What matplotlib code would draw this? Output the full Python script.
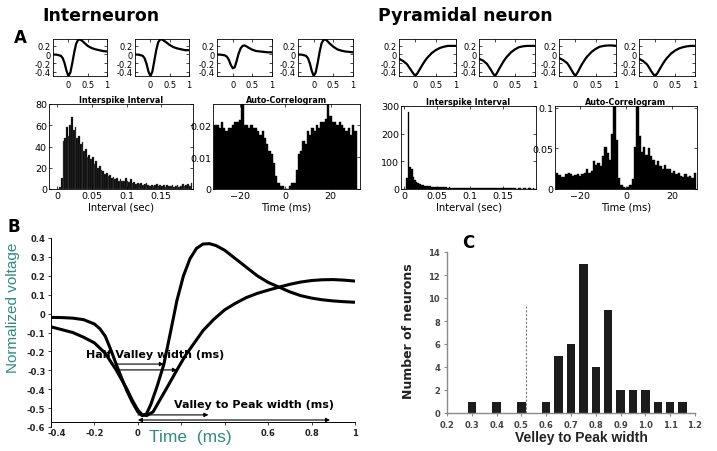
import matplotlib.pyplot as plt
from matplotlib.transforms import ScaledTranslation

W, H = 717, 452

# ---- small waveforms (panel A, top row) ----
small_t = [-0.4, -0.3, -0.2, -0.15, -0.1, -0.05, 0.0, 0.05, 0.1, 0.15, 0.2,
           0.25, 0.3, 0.35, 0.4, 0.5, 0.6, 0.7, 0.8, 0.9, 1.0]
inter_waves = [
    [0.0, -0.005, -0.03, -0.08, -0.2, -0.38, -0.5, -0.42, -0.2, 0.05, 0.25,
     0.34, 0.35, 0.32, 0.28, 0.2, 0.15, 0.12, 0.1, 0.08, 0.07],
    [0.0, -0.005, -0.03, -0.09, -0.22, -0.4, -0.5, -0.4, -0.15, 0.1, 0.28,
     0.35, 0.35, 0.32, 0.29, 0.22, 0.17, 0.14, 0.12, 0.1, 0.1],
    [0.0, -0.005, -0.02, -0.05, -0.12, -0.24, -0.32, -0.3, -0.15, 0.02, 0.14,
     0.2, 0.21, 0.19, 0.16, 0.11, 0.08, 0.07, 0.06, 0.05, 0.05],
    [0.0, -0.005, -0.03, -0.08, -0.2, -0.38, -0.5, -0.42, -0.2, 0.06, 0.26,
     0.34, 0.35, 0.31, 0.26, 0.18, 0.12, 0.09, 0.07, 0.06, 0.05],
]
pyr_waves = [
    [-0.1, -0.15, -0.23, -0.3, -0.37, -0.44, -0.5, -0.44, -0.36, -0.28, -0.2,
     -0.13, -0.07, -0.02, 0.03, 0.1, 0.15, 0.18, 0.2, 0.2, 0.2],
    [-0.1, -0.14, -0.22, -0.29, -0.36, -0.44, -0.5, -0.43, -0.34, -0.26, -0.18,
     -0.11, -0.05, 0.0, 0.05, 0.12, 0.17, 0.19, 0.2, 0.2, 0.2],
    [-0.08, -0.13, -0.2, -0.27, -0.35, -0.43, -0.5, -0.43, -0.34, -0.25, -0.17,
     -0.1, -0.04, 0.01, 0.06, 0.13, 0.18, 0.2, 0.21, 0.21, 0.2],
    [-0.1, -0.15, -0.23, -0.3, -0.38, -0.45, -0.5, -0.45, -0.37, -0.29, -0.21,
     -0.14, -0.08, -0.03, 0.02, 0.09, 0.14, 0.17, 0.19, 0.2, 0.2],
]

# ---- ISI histograms (bin width 2.5 ms) ----
isi_bin = 0.0025
inter_isi = [0, 2, 10, 45, 48, 58, 50, 60, 68, 56, 58, 48, 50, 42, 44, 36, 38,
             30, 32, 28, 30, 24, 26, 20, 22, 18, 17, 14, 15, 12, 13, 10, 11, 9,
             10, 8, 9, 8, 8, 10, 8, 7, 9, 6, 7, 5, 6, 5, 6, 4, 5, 6, 4, 3, 4, 3,
             4, 5, 3, 4, 3, 4, 2, 4, 3, 3, 4, 2, 3, 4, 2, 3, 5, 3, 4, 5, 3, 6]
pyr_isi = [0, 40, 280, 78, 72, 45, 32, 25, 20, 18, 15, 14, 12, 11, 10, 10, 9,
           9, 8, 8, 7, 7, 6, 7, 6, 6, 5, 6, 5, 5, 5, 4, 5, 4, 4, 5, 4, 4, 3, 4,
           4, 3, 3, 4, 3, 3, 3, 2, 3, 3, 2, 3, 2, 2, 3, 2, 2, 2, 3, 2, 2, 2, 2,
           2, 2, 2, 2, 2, 1, 2, 2, 1, 2, 2, 1, 2, 2, 1, 2, 1]

# ---- auto-correlograms (1 ms bins) ----
inter_ac_lags = list(range(-31, 32))
inter_ac = [0.02, 0.02, 0.019, 0.021, 0.019, 0.018, 0.019, 0.019, 0.02, 0.021,
            0.021, 0.0215, 0.03, 0.02, 0.02, 0.019, 0.02, 0.019, 0.019, 0.018,
            0.017, 0.018, 0.016, 0.014, 0.012, 0.011, 0.008, 0.004, 0.002,
            0.001, 0.001, 0.0, 0.0, 0.001, 0.002, 0.002, 0.006, 0.011, 0.012,
            0.015, 0.014, 0.018, 0.017, 0.019, 0.018, 0.02, 0.019, 0.021,
            0.021, 0.022, 0.03, 0.023, 0.021, 0.021, 0.02, 0.021, 0.02, 0.019,
            0.018, 0.019, 0.017, 0.02, 0.018]
pyr_ac_lags = list(range(-30, 31))
pyr_ac = [0.02, 0.017, 0.015, 0.015, 0.019, 0.02, 0.018, 0.016, 0.017, 0.019,
          0.016, 0.018, 0.02, 0.025, 0.02, 0.022, 0.034, 0.03, 0.032, 0.028,
          0.04, 0.052, 0.044, 0.036, 0.068, 0.11, 0.06, 0.014, 0.005, 0.002,
          0.001, 0.002, 0.005, 0.012, 0.052, 0.11, 0.065, 0.045, 0.052, 0.042,
          0.05, 0.04, 0.036, 0.03, 0.034, 0.028, 0.025, 0.03, 0.024, 0.025,
          0.02, 0.022, 0.018, 0.02, 0.016, 0.015, 0.018, 0.015, 0.016, 0.014,
          0.02]

# ---- panel B mean waveforms ----
narrow_t = [-0.4, -0.35, -0.3, -0.25, -0.2, -0.175, -0.15, -0.125, -0.1,
            -0.075, -0.05, -0.025, 0.0, 0.02, 0.04, 0.06, 0.09, 0.12, 0.15,
            0.18, 0.21, 0.24, 0.27, 0.3, 0.33, 0.36, 0.4, 0.45, 0.5, 0.55,
            0.6, 0.65, 0.7, 0.75, 0.8, 0.85, 0.9, 0.95, 1.0]
narrow_v = [-0.02, -0.021, -0.024, -0.032, -0.055, -0.08, -0.12, -0.19,
            -0.267, -0.34, -0.41, -0.47, -0.52, -0.54, -0.53, -0.48, -0.38,
            -0.267, -0.1, 0.07, 0.2, 0.29, 0.345, 0.368, 0.37, 0.36, 0.335,
            0.29, 0.245, 0.2, 0.165, 0.14, 0.115, 0.095, 0.082, 0.073, 0.067,
            0.063, 0.06]
broad_t = [-0.4, -0.35, -0.3, -0.25, -0.2, -0.15, -0.1, -0.05, -0.025, 0.0,
           0.02, 0.04, 0.07, 0.1, 0.14, 0.18, 0.22, 0.26, 0.3, 0.35, 0.4, 0.45,
           0.5, 0.55, 0.6, 0.65, 0.7, 0.75, 0.8, 0.85, 0.9, 0.95, 1.0]
broad_v = [-0.07, -0.085, -0.1, -0.125, -0.155, -0.21, -0.298, -0.4, -0.46,
           -0.51, -0.535, -0.54, -0.52, -0.46, -0.38, -0.298, -0.22, -0.155,
           -0.09, -0.03, 0.02, 0.055, 0.085, 0.107, 0.124, 0.14, 0.155, 0.167,
           0.175, 0.179, 0.18, 0.177, 0.172]
half_start = -0.1
narrow_half = (0.12, -0.267)
broad_half = (0.18, -0.298)
valley_t = 0.0
narrow_peak_end = (0.325, -0.536)
broad_peak_end = (0.885, -0.563)

# ---- panel C histogram ----
vp_width = [0.3, 0.4, 0.5, 0.6, 0.65, 0.7, 0.75, 0.8, 0.85, 0.9, 0.95, 1.0,
            1.05, 1.1, 1.15]
vp_count = [1, 1, 1, 1, 5, 6, 13, 4, 9, 2, 2, 2, 1, 1, 1]
cutoff = 0.52
cutoff_top = 9.3


def box(x0, y0, x1, y1):
    return [x0 / W, 1 - y1 / H, (x1 - x0) / W, (y1 - y0) / H]


def matlab_style(ax, fs):
    for s in ax.spines.values():
        s.set_linewidth(0.6)
    ax.tick_params(direction="in", length=2, width=0.5, labelsize=fs,
                   top=True, right=True, pad=1.5)


fig = plt.figure(figsize=(W / 100, H / 100), dpi=100)

fig.text(42 / W, 1 - 16 / H, "Interneuron", fontsize=12.5, fontweight="bold",
         va="center")
fig.text(378 / W, 1 - 16 / H, "Pyramidal neuron", fontsize=12.5,
         fontweight="bold", va="center")
fig.text(20 / W, 1 - 38 / H, "A", fontsize=12, fontweight="bold",
         ha="center", va="center")
fig.text(14 / W, 1 - 227 / H, "B", fontsize=12, fontweight="bold",
         ha="center", va="center")
fig.text(468 / W, 1 - 243 / H, "C", fontsize=12, fontweight="bold",
         ha="center", va="center")

# small waveform axes
inter_x = [(53, 107), (135, 189), (217, 272), (298, 353)]
pyr_x = [(399, 456), (479, 535), (559, 616), (639, 695)]
for xs, waves in [(inter_x, inter_waves), (pyr_x, pyr_waves)]:
    for (x0, x1), wave in zip(xs, waves):
        ax = fig.add_axes(box(x0, 40, x1, 77))
        ax.plot(small_t, wave, color="black", lw=1.6)
        ax.set_xlim(-0.4, 1)
        ax.set_ylim(-0.5, 0.36)
        ax.set_xticks([0, 0.5, 1])
        ax.set_xticklabels(["0", "0.5", "1"])
        ax.set_yticks([-0.4, -0.2, 0, 0.2])
        ax.set_yticklabels(["-0.4", "-0.2", "0", "0.2"])
        matlab_style(ax, 6)
        ax.tick_params(axis="x", pad=3)

# ISI histograms
isi_specs = [((49, 105, 193, 190), inter_isi, (-0.012, 0.196), 80,
              [0, 20, 40, 60, 80], "#5a5a5a"),
             ((401, 107, 536, 190), pyr_isi, (-0.005, 0.2), 300,
              [0, 100, 200, 300], "black")]
for rect, vals, xl, ymax, yt, ec in isi_specs:
    ax = fig.add_axes(box(*rect))
    lefts = [i * isi_bin for i in range(len(vals))]
    ax.bar(lefts, vals, width=isi_bin, align="edge", color="black",
           edgecolor=ec, linewidth=0.25)
    ax.set_xlim(*xl)
    ax.set_ylim(0, ymax)
    ax.set_xticks([0, 0.05, 0.1, 0.15])
    ax.set_xticklabels(["0", "0.05", "0.1", "0.15"])
    ax.set_yticks(yt)
    matlab_style(ax, 6.8)
    ax.set_title("Interspike Interval", fontsize=5.8, fontweight="bold",
                 pad=1.5)
    ax.set_xlabel("Interval (sec)", fontsize=7.2, labelpad=1)

# auto-correlograms
ac_specs = [((213, 105, 360, 190), inter_ac_lags, inter_ac, (-32, 33),
             0.0266, [0, 0.01, 0.02], ["0", "0.01", "0.02"]),
            ((555, 107, 697, 190), pyr_ac_lags, pyr_ac, (-31, 31),
             0.102, [0, 0.05, 0.1], ["0", "0.05", "0.1"])]
for rect, lags, vals, xl, ymax, yt, ytl in ac_specs:
    ax = fig.add_axes(box(*rect))
    ax.bar(lags, vals, width=1.0, color="black", edgecolor="black",
           linewidth=0.3)
    ax.set_xlim(*xl)
    ax.set_ylim(0, ymax)
    ax.set_xticks([-20, 0, 20])
    ax.set_yticks(yt)
    ax.set_yticklabels(ytl)
    matlab_style(ax, 6.8)
    ax.set_title("Auto-Correlogram", fontsize=5.8, fontweight="bold", pad=1.5)
    ax.set_xlabel("Time (ms)", fontsize=7.2, labelpad=1)

# panel B
teal = "#2e8b80"
axb = fig.add_axes(box(51, 239, 355, 428))
axb.text(-0.24, -0.214, "Half Valley width (ms)", fontsize=8,
         fontweight="bold", va="center", zorder=2)
axb.text(0.165, -0.478, "Valley to Peak width (ms)", fontsize=8,
         fontweight="bold", va="center", zorder=2)
axb.plot(narrow_t, narrow_v, color="black", lw=2.2, zorder=3,
         solid_joinstyle="round")
axb.plot(broad_t, broad_v, color="black", lw=2.2, zorder=3,
         solid_joinstyle="round")
arrow = dict(arrowstyle="-|>", lw=0.8, color="black", mutation_scale=6,
             shrinkA=0, shrinkB=0)
arrow2 = dict(arrowstyle="<|-|>", lw=0.8, color="black", mutation_scale=6,
              shrinkA=0, shrinkB=0)
axb.annotate("", xy=narrow_half, xytext=(half_start, narrow_half[1]),
             arrowprops=arrow, zorder=4)
axb.annotate("", xy=broad_half, xytext=(half_start, broad_half[1]),
             arrowprops=arrow, zorder=4)
axb.annotate("", xy=narrow_peak_end, xytext=(valley_t, narrow_peak_end[1]),
             arrowprops=arrow, zorder=4)
axb.annotate("", xy=broad_peak_end, xytext=(valley_t, broad_peak_end[1]),
             arrowprops=arrow2, zorder=4)
axb.set_xlim(-0.4, 1)
axb.set_ylim(-0.6, 0.4)
axb.spines["top"].set_visible(False)
axb.spines["right"].set_visible(False)
axb.spines["bottom"].set_position(("data", -0.575))
for s in ("left", "bottom"):
    axb.spines[s].set_linewidth(0.7)
axb.set_xticks([-0.4, -0.2, 0, 0.2, 0.4, 0.6, 0.8, 1.0])
axb.set_xticklabels(["-0.4", "-0.2", "0", "", "", "0.6", "0.8", "1"])
yt = [0.4, 0.3, 0.2, 0.1, 0, -0.1, -0.2, -0.3, -0.4, -0.5, -0.6]
axb.set_yticks(yt)
axb.set_yticklabels(["0.4", "0.3", "0.2", "0.1", "0", "-0.1", "-0.2", "-0.3",
                     "-0.4", "-0.5", "-0.6"])
axb.tick_params(length=2, width=0.6, labelsize=6, pad=2, colors="#222222")
for lab in axb.get_xticklabels() + axb.get_yticklabels():
    lab.set_fontweight("bold")
# nudge first x label so it clears the -0.6 y label
first = axb.get_xticklabels()[0]
first.set_transform(first.get_transform() +
                    ScaledTranslation(4 / 72, 0, fig.dpi_scale_trans))
fig.text(13 / W, 1 - 308 / H, "Normalized voltage", fontsize=11,
         family="Liberation Sans", color=teal, rotation=90,
         ha="center", va="center")
fig.text(190 / W, 1 - 438 / H, "Time  (ms)", fontsize=12.5,
         family="Liberation Sans", color=teal, ha="center", va="center")

# panel C
axc = fig.add_axes(box(447, 253, 695, 414))
axc.bar(vp_width, vp_count, width=0.034, color="#1c1c1c")
axc.plot([cutoff, cutoff], [0, cutoff_top], color="#777777", lw=0.8,
         ls=(0, (2, 1.5)))
axc.set_xlim(0.2, 1.2)
axc.set_ylim(0, 14)
axc.set_xticks([0.2, 0.3, 0.4, 0.5, 0.6, 0.7, 0.8, 0.9, 1.0, 1.1, 1.2])
axc.set_xticklabels(["0.2", "0.3", "0.4", "0.5", "0.6", "0.7", "0.8", "0.9",
                     "1.0", "1.1", "1.2"])
axc.set_yticks(range(0, 15, 2))
axc.spines["top"].set_visible(False)
axc.spines["right"].set_visible(False)
for s in ("left", "bottom"):
    axc.spines[s].set_color("#8a8a8a")
    axc.spines[s].set_linewidth(1.0)
axc.tick_params(length=2, width=0.8, color="#8a8a8a", labelsize=6,
                labelcolor="#444444", pad=3)
for lab in axc.get_xticklabels() + axc.get_yticklabels():
    lab.set_fontweight("bold")
fig.text(409 / W, 1 - 331 / H, "Number of neurons", fontsize=9,
         fontweight="bold", rotation=90, ha="center", va="center",
         color="#222222")
fig.text(581 / W, 1 - 438 / H, "Velley to Peak width", fontsize=10,
         family="Liberation Sans", fontweight="bold", ha="center",
         va="center", color="#222222")

fig.savefig("out.png", dpi=100)
